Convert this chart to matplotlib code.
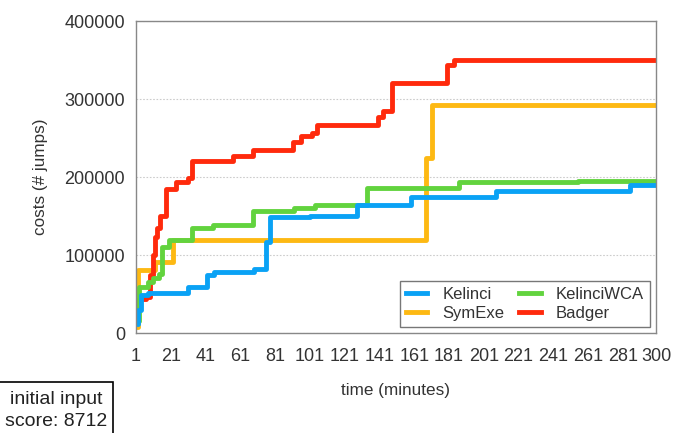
import matplotlib
matplotlib.use("Agg")
import matplotlib.pyplot as plt
from matplotlib.patches import Rectangle

plt.rcParams['font.family'] = ['Liberation Sans', 'DejaVu Sans']

# ---- data ----
kelinci_t = [1, 2, 4, 8, 31, 42, 46, 69, 76, 78, 101, 128, 159, 208, 285, 300]
kelinci_v = [12000, 30000, 49000, 51000, 59000, 75000, 78000, 82000, 117000, 149000,
             150000, 164000, 175000, 182500, 190000, 190000]

symexe_t = [1, 2, 12, 22, 168, 171, 300]
symexe_v = [8000, 81000, 91000, 119000, 225000, 292000, 292000]

wca_t = [1, 3, 8, 11, 14, 16, 20, 33, 45, 68, 92, 104, 134, 187, 194, 255, 300]
wca_v = [15000, 59000, 65000, 70000, 76000, 110000, 119000, 135000, 139000, 157000,
         160000, 164000, 186000, 193000, 194000, 195000, 195000]

badger_t = [1, 3, 7, 9, 11, 12, 13, 15, 18, 24, 31, 33, 57, 68, 91, 96, 102, 105,
            140, 143, 148, 180, 184, 300]
badger_v = [30000, 44000, 46000, 75000, 100000, 123000, 135000, 150000, 184000, 193000,
            199000, 220000, 227000, 234000, 245000, 253000, 257000, 267000,
            277000, 285000, 321000, 344000, 350000, 350000]

xticks = [1, 21, 41, 61, 81, 101, 121, 141, 161, 181, 201, 221, 241, 261, 281, 300]
yticks = [0, 100000, 200000, 300000, 400000]

colors = {'Kelinci': '#0AA2F5', 'SymExe': '#FDB913', 'KelinciWCA': '#62D33E', 'Badger': '#FF2A0C'}

fig = plt.figure(figsize=(6.73, 4.33), dpi=100)
ax = fig.add_axes([0.2021, 0.2309, 0.7726, 0.7206])

lw = 3.5
l_sym, = ax.plot(symexe_t, symexe_v, drawstyle='steps-post', color=colors['SymExe'], lw=lw, label='SymExe')
l_bad, = ax.plot(badger_t, badger_v, drawstyle='steps-post', color=colors['Badger'], lw=lw, label='Badger')
l_wca, = ax.plot(wca_t, wca_v, drawstyle='steps-post', color=colors['KelinciWCA'], lw=lw, label='KelinciWCA')
l_kel, = ax.plot(kelinci_t, kelinci_v, drawstyle='steps-post', color=colors['Kelinci'], lw=lw, label='Kelinci')

ax.set_xlim(1, 300)
ax.set_ylim(0, 400000)
ax.set_xticks(xticks)
ax.set_xticklabels([str(x) for x in xticks])
ax.set_yticks(yticks)
ax.set_yticklabels([str(y) for y in yticks])
ax.tick_params(length=0, labelsize=13, labelcolor='#333333')
ax.tick_params(axis='x', pad=11)
ax.tick_params(axis='y', pad=8)
ax.yaxis.grid(True, linestyle=(0, (1.5, 1.5)), color='#cccccc', lw=0.8)
ax.set_axisbelow(True)
for s in ax.spines.values():
    s.set_color('#888888')
    s.set_linewidth(1.0)

ax.set_xlabel('time (minutes)', fontsize=12.3, color='#333333', labelpad=13)
ax.set_ylabel('costs (# jumps)', fontsize=12.3, color='#333333', labelpad=12)

leg = ax.legend(handles=[l_kel, l_sym, l_wca, l_bad], ncol=2, loc='lower right',
                fontsize=12, frameon=True, fancybox=False, edgecolor='#555555',
                handlelength=1.3, columnspacing=0.9, handletextpad=0.9,
                borderpad=0.35, labelspacing=0.25, borderaxespad=0,
                bbox_to_anchor=(1 - 6/520, 6/312))
leg.get_frame().set_linewidth(1.0)
for t in leg.get_texts():
    t.set_color('#333333')

# initial input box
fig.patches.append(Rectangle((-0.01, -0.05), 113/673 + 0.01, (433-382)/433 + 0.05, transform=fig.transFigure,
                             fill=False, edgecolor='black', lw=1.2))
fig.text(56/673, 1 - 400/433, 'initial input', ha='center', va='center', fontsize=14, color='#222222')
fig.text(56/673, 1 - 422/433, 'score: 8712', ha='center', va='center', fontsize=14, color='#222222')

fig.savefig('out.png', dpi=100)
